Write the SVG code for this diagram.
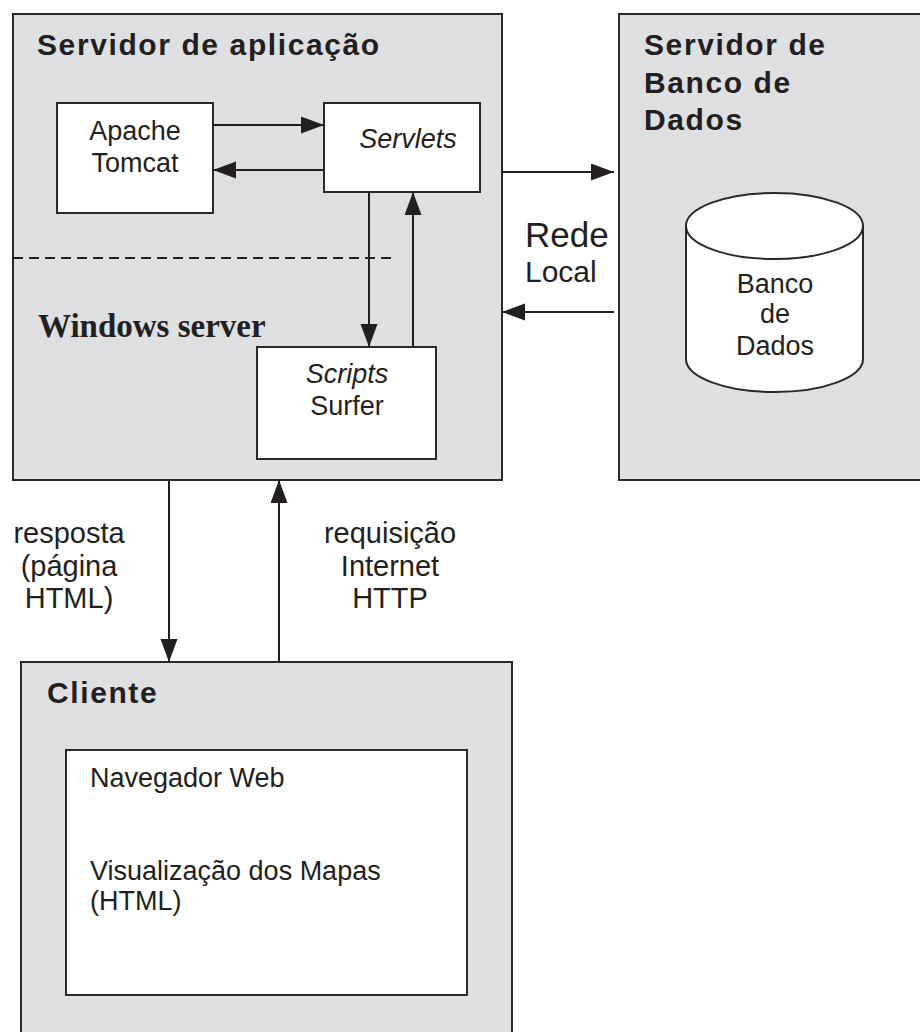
<svg xmlns="http://www.w3.org/2000/svg" width="920" height="1032" viewBox="0 0 920 1032">
  <style>
    .panel { fill: #dfe0e2; stroke: #2a2a2a; stroke-width: 2; }
    .box { fill: #ffffff; stroke: #2a2a2a; stroke-width: 2; }
    .title { font-family: "Liberation Sans", Arial, sans-serif; font-weight: bold; font-size: 30px; letter-spacing: 1.6px; fill: #231f20; }
    .txt { font-family: "Liberation Sans", Arial, sans-serif; font-size: 27px; fill: #231f20; }
    .lbl { font-family: "Liberation Sans", Arial, sans-serif; font-size: 29px; fill: #231f20; }
    .mid { text-anchor: middle; }
    .it { font-style: italic; }
    .serif { font-family: "Liberation Serif", "Times New Roman", serif; font-weight: bold; font-size: 33px; fill: #231f20; }
    .edge { stroke: #231f20; stroke-width: 2; fill: none; marker-end: url(#arrow); }
  </style>
  <defs>
    <marker id="arrow" markerUnits="userSpaceOnUse" markerWidth="24" markerHeight="18" refX="23" refY="8.5" orient="auto">
      <path d="M0,0 L23,8.5 L0,17 z" fill="#231f20"/>
    </marker>
  </defs>

  <rect width="920" height="1032" fill="#ffffff"/>

  <!-- Application server -->
  <g id="app-server">
    <rect class="panel" x="13" y="14" width="489" height="466"/>
    <text class="title" x="37" y="55">Servidor de aplicação</text>
    <line x1="13" y1="258" x2="393" y2="258" stroke="#231f20" stroke-width="2" stroke-dasharray="10,6"/>
    <text class="serif" x="38" y="337">Windows server</text>
  </g>

  <g id="tomcat">
    <rect class="box" x="57" y="103" width="156" height="110"/>
    <text class="txt mid" x="135" y="140">Apache</text>
    <text class="txt mid" x="135" y="172">Tomcat</text>
  </g>

  <g id="servlets">
    <rect class="box" x="324" y="103" width="156" height="89"/>
    <text class="txt mid it" x="408" y="148">Servlets</text>
  </g>

  <g id="scripts">
    <rect class="box" x="257" y="347" width="179" height="112"/>
    <text class="txt mid it" x="347" y="383">Scripts</text>
    <text class="txt mid" x="347" y="415">Surfer</text>
  </g>

  <!-- Database server -->
  <g id="db-server">
    <rect class="panel" x="619" y="14" width="310" height="466"/>
    <text class="title" x="644" y="55">Servidor de</text>
    <text class="title" x="644" y="93">Banco de</text>
    <text class="title" x="644" y="130">Dados</text>
  </g>

  <g id="database">
    <path class="box" d="M686,226 L686,359 A88.5,33 0 0 0 863,359 L863,226"/>
    <ellipse class="box" cx="774.5" cy="226" rx="88.5" ry="33"/>
    <text class="txt mid" x="775" y="293">Banco</text>
    <text class="txt mid" x="775" y="323">de</text>
    <text class="txt mid" x="775" y="355">Dados</text>
  </g>

  <!-- Client -->
  <g id="client">
    <rect class="panel" x="21" y="662" width="491" height="390"/>
    <text class="title" x="47" y="703">Cliente</text>
  </g>

  <g id="browser">
    <rect class="box" x="66" y="750" width="401" height="245"/>
    <text class="txt" x="90" y="787">Navegador Web</text>
    <text class="txt" x="90" y="880">Visualização dos Mapas</text>
    <text class="txt" x="90" y="910">(HTML)</text>
  </g>

  <!-- Connectors -->
  <g id="connectors">
    <line class="edge" x1="213" y1="125" x2="324" y2="125"/>
    <line class="edge" x1="324" y1="170" x2="213" y2="170"/>
    <line class="edge" x1="369" y1="192" x2="369" y2="347"/>
    <line class="edge" x1="413" y1="347" x2="413" y2="192"/>
    <line class="edge" x1="502" y1="172" x2="614" y2="172"/>
    <line class="edge" x1="614" y1="312" x2="502" y2="312"/>
    <line class="edge" x1="169" y1="480" x2="169" y2="662"/>
    <line class="edge" x1="279" y1="662" x2="279" y2="480"/>
  </g>

  <g id="labels">
    <text class="lbl" x="525" y="247" style="font-size:35px">Rede</text>
    <text class="lbl" x="525" y="282" style="font-size:30px">Local</text>
    <text class="lbl mid" x="69" y="543">resposta</text>
    <text class="lbl mid" x="69" y="576">(página</text>
    <text class="lbl mid" x="69" y="608">HTML)</text>
    <text class="lbl mid" x="390" y="543">requisição</text>
    <text class="lbl mid" x="390" y="576">Internet</text>
    <text class="lbl mid" x="390" y="608">HTTP</text>
  </g>
</svg>
